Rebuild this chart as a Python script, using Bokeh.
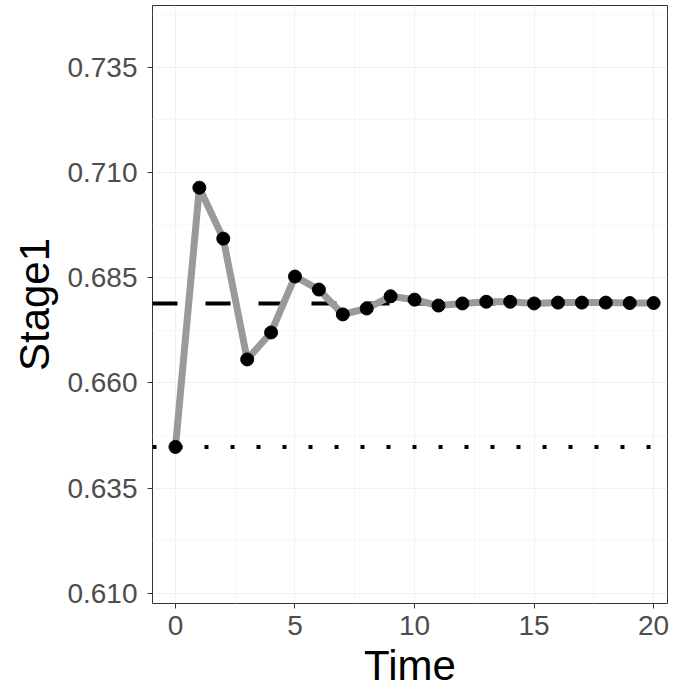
from bokeh.plotting import figure
from bokeh.models import FixedTicker, PrintfTickFormatter, Span, Range1d, ColumnDataSource
from bokeh.embed import file_html
from bokeh.resources import INLINE

time = list(range(21))
stage1 = [0.6448, 0.7064, 0.6943, 0.6656, 0.6720, 0.6853, 0.6822, 0.6763, 0.6777,
          0.6806, 0.6798, 0.6784, 0.6789, 0.6793, 0.6793, 0.6789, 0.6791, 0.6791,
          0.6791, 0.6790, 0.6790]
equilibrium = 0.6789
initial = 0.6448
x_ticks = [0, 5, 10, 15, 20]
y_ticks = [0.610, 0.635, 0.660, 0.685, 0.710, 0.735]

src = ColumnDataSource(data=dict(time=time, stage1=stage1))

p = figure(width=669, height=691, output_backend="svg", toolbar_location=None,
           x_range=Range1d(-0.96, 20.58), y_range=Range1d(0.6076, 0.7497),
           min_border_left=152, min_border_right=2, min_border_top=5,
           min_border_bottom=86)
p.background_fill_color = "white"
p.border_fill_color = "white"
p.outline_line_color = "#333333"
p.outline_line_width = 1

p.xaxis.ticker = FixedTicker(ticks=x_ticks, minor_ticks=[2.5, 7.5, 12.5, 17.5])
p.yaxis.ticker = FixedTicker(ticks=y_ticks, minor_ticks=[0.6225, 0.6475, 0.6725, 0.6975, 0.7225, 0.7475])
p.yaxis.formatter = PrintfTickFormatter(format="%.3f")

for ax in (p.xaxis, p.yaxis):
    ax.axis_line_color = None
    ax.major_tick_line_color = "#333333"
    ax.major_tick_line_width = 1
    ax.major_tick_out = 5
    ax.major_tick_in = 0
    ax.minor_tick_line_color = None
    ax.major_label_text_font = "Liberation Sans"
    ax.major_label_text_font_size = "28px"
    ax.major_label_text_color = "#4d4d4d"
    ax.axis_label_text_font = "Liberation Sans"
    ax.axis_label_text_font_size = "42px"
    ax.axis_label_text_font_style = "normal"
    ax.axis_label_text_color = "black"

p.xaxis.axis_label = "Time"
p.yaxis.axis_label = "Stage1"
p.xaxis.major_label_standoff = 7
p.yaxis.major_label_standoff = 10
p.xaxis.axis_label_standoff = 4
p.yaxis.axis_label_standoff = 6

p.xgrid.grid_line_color = "#f0f0f0"
p.ygrid.grid_line_color = "#f0f0f0"
p.xgrid.minor_grid_line_color = "#f7f7f7"
p.ygrid.minor_grid_line_color = "#f7f7f7"

p.add_layout(Span(location=equilibrium, dimension="width", line_color="black",
                  line_width=4, line_dash="25 28", level="underlay"))
p.add_layout(Span(location=initial, dimension="width", line_color="black",
                  line_width=4, line_dash="4 22", level="underlay"))

p.line("time", "stage1", source=src, line_color="#9a9a9a", line_width=7)
p.scatter("time", "stage1", source=src, size=13, fill_color="black", line_color="black")

open("out.html", "w").write(file_html(p, INLINE))
